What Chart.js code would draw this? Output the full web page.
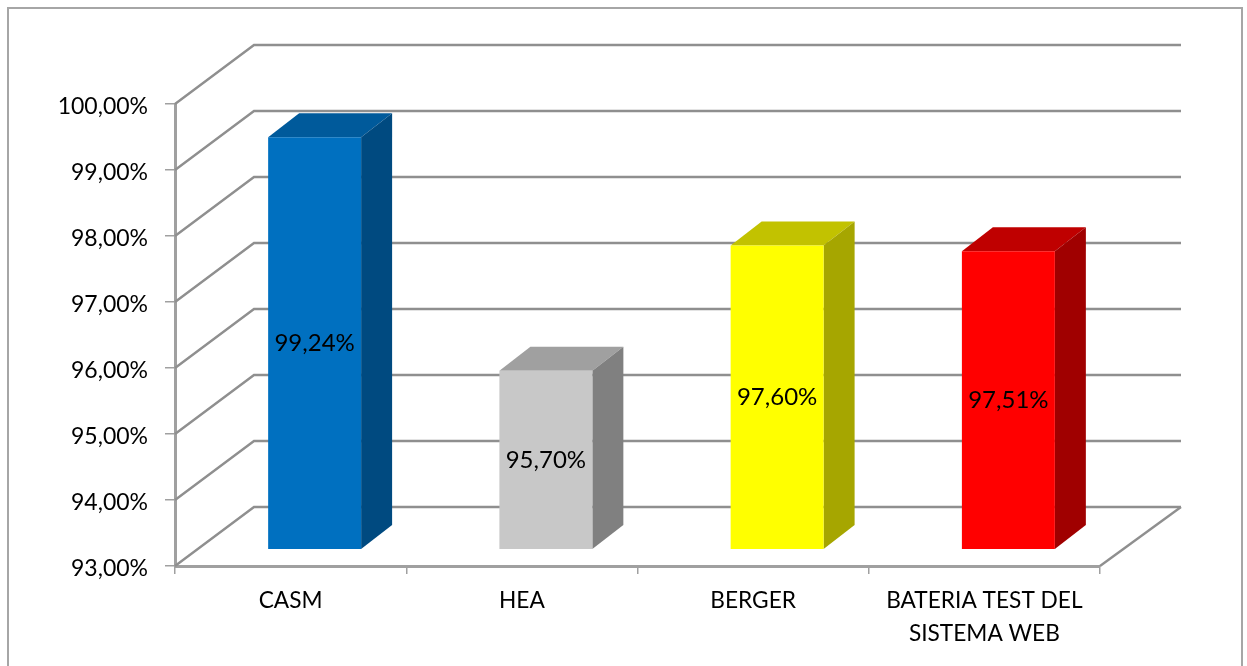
<!DOCTYPE html>
<html>
<head>
<meta charset="utf-8">
<style>
  html, body { margin: 0; padding: 0; background: #fff; overflow: hidden; }
  #wrap { width: 1247px; height: 666px; }
</style>
<script src="https://cdn.jsdelivr.net/npm/chart.js@4/dist/chart.umd.min.js"></script>
</head>
<body>
<div id="wrap"><canvas id="myChart"></canvas></div>
<script>
const categories = ['CASM', 'HEA', 'BERGER', ['BATERIA TEST DEL', 'SISTEMA WEB']];
const values = [99.24, 95.70, 97.60, 97.51];
const frontColors = ['#0070c0', '#c8c8c8', '#ffff00', '#ff0000'];
const topColors = ['#005a9b', '#a0a0a0', '#c2c200', '#bf0000'];
const sideColors = ['#004a80', '#808080', '#a6a600', '#a00000'];

const fontName = 'Lato, Carlito, sans-serif';
const gridColor = '#8f8f8f';

// depth of the floor, of the gap in front of the bars, and of the bars
const wallDx = 79, wallDxRight = 81, wallDy = -59;
const gapDx = 24, gapDy = -17;
const barDx = 31, barDy = -24;

const fmt = (v) => v.toFixed(2).replace('.', ',') + '%';

const poly = (ctx, color, pts) => {
    ctx.fillStyle = color;
    ctx.beginPath();
    pts.forEach((p, i) => i ? ctx.lineTo(p[0], p[1]) : ctx.moveTo(p[0], p[1]));
    ctx.closePath();
    ctx.fill();
};

const fake3d = {
    id: 'fake3d',
    beforeDraw(chart) {
        const ctx = chart.ctx;
        ctx.save();
        ctx.strokeStyle = '#a6a6a6';
        ctx.lineWidth = 2;
        ctx.strokeRect(8, 8, 1234, 720);
        ctx.restore();
    },
    beforeDatasetsDraw(chart) {
        const ctx = chart.ctx;
        const { x, y } = chart.scales;
        const left = x.left, right = x.right;

        ctx.save();
        ctx.strokeStyle = gridColor;
        ctx.lineWidth = 2.4;
        y.ticks.forEach((t) => {
            const py = y.getPixelForValue(t.value);
            ctx.beginPath();
            ctx.moveTo(left, py);
            ctx.lineTo(left + wallDx, py + wallDy);
            ctx.lineTo(right + wallDxRight, py + wallDy);
            ctx.stroke();
        });
        const floor = y.getPixelForValue(y.min);
        ctx.beginPath();
        ctx.moveTo(right, floor);
        ctx.lineTo(right + wallDxRight, floor + wallDy);
        ctx.stroke();
        ctx.restore();

        // bars themselves are drawn by the library inside this translate
        ctx.save();
        ctx.translate(gapDx, gapDy);
        chart.getDatasetMeta(0).data.forEach((bar, i) => {
            const l = bar.x - bar.width / 2, r = bar.x + bar.width / 2;
            poly(ctx, topColors[i], [[l, bar.y], [r, bar.y], [r + barDx, bar.y + barDy], [l + barDx, bar.y + barDy]]);
            poly(ctx, sideColors[i], [[r, bar.y], [r + barDx, bar.y + barDy], [r + barDx, floor + barDy], [r, floor]]);
        });
    },
    afterDatasetsDraw(chart) {
        const ctx = chart.ctx;
        ctx.restore();

        const floor = chart.scales.y.getPixelForValue(chart.scales.y.min);
        ctx.save();
        ctx.fillStyle = '#000';
        ctx.font = '24px ' + fontName;
        ctx.textAlign = 'center';
        ctx.textBaseline = 'middle';
        chart.getDatasetMeta(0).data.forEach((bar, i) => {
            ctx.fillText(fmt(values[i]), bar.x + gapDx, (bar.y + floor) / 2 + gapDy);
        });
        ctx.restore();
    }
};

new Chart(document.getElementById('myChart'), {
    type: 'bar',
    data: {
        labels: categories,
        datasets: [{
            data: values,
            backgroundColor: frontColors,
            borderWidth: 0,
            barPercentage: 1,
            categoryPercentage: 0.402
        }]
    },
    options: {
        responsive: true,
        maintainAspectRatio: false,
        animation: false,
        layout: { padding: { left: 0, right: 147, top: 104, bottom: 0 } },
        plugins: { legend: { display: false }, tooltip: { enabled: false } },
        scales: {
            x: {
                afterFit: (s) => { s.height = 100; },
                grid: { drawOnChartArea: false, color: '#a0a0a0', lineWidth: 1.5, tickLength: 8 },
                border: { color: '#a0a0a0', width: 3 },
                ticks: { color: '#000', font: { family: fontName, size: 22.7, lineHeight: 1.45 }, padding: 10, maxRotation: 0 }
            },
            y: {
                min: 93,
                max: 100,
                afterFit: (s) => { s.width = 175; },
                grid: { drawOnChartArea: false, color: '#a0a0a0', lineWidth: 1.5, tickLength: 10 },
                border: { color: '#a0a0a0', width: 3 },
                ticks: { stepSize: 1, color: '#000', font: { family: fontName, size: 23 }, padding: 17, labelOffset: 3, callback: (v) => fmt(v) }
            }
        }
    },
    plugins: [fake3d]
});
</script>
</body>
</html>
